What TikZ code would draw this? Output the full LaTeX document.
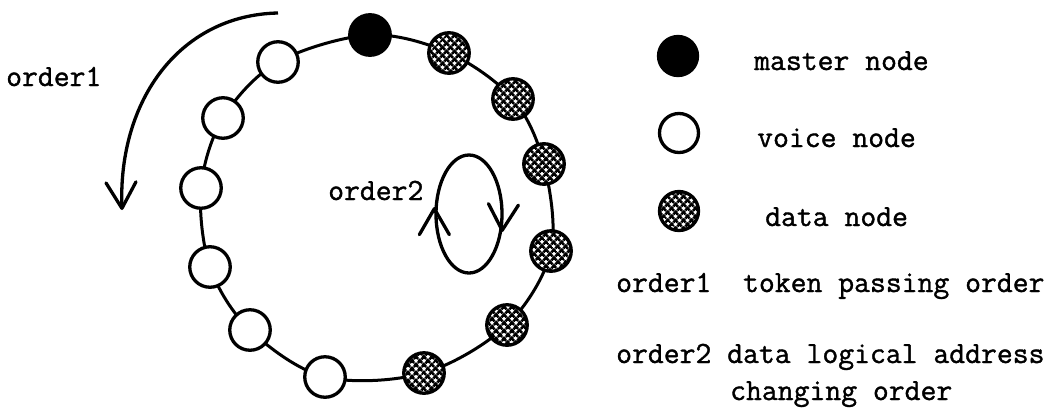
\documentclass[tikz,border=0pt]{standalone}
\usepackage{fontspec}
\setmonofont{Latin Modern Mono}[FakeBold=1.2]
\usetikzlibrary{arrows.meta,patterns.meta,backgrounds,shapes.geometric}

\tikzset{
  ringnode/.style={circle, inner sep=0pt, minimum size=40.5pt, line width=3.3pt, draw=black},
  masternode/.style={ringnode, fill=black},
  voicenode/.style={ringnode, fill=white},
  datanode/.style={ringnode, fill=white,
    postaction={pattern={Lines[angle=45,distance=5.4pt,line width=2.8pt]}},
    postaction={pattern={Lines[angle=-45,distance=5.4pt,line width=2.8pt]}}},
  ringline/.style={line width=3pt, black},
  barb/.tip={Straight Barb[length=26pt, width=30pt, line width=3.3pt, round]},
  label/.style={inner sep=0pt, anchor=base west, font=\ttfamily\fontsize{30.8}{34}\selectfont},
}

\begin{document}
\begin{tikzpicture}[x=1pt, y=-1pt]
\useasboundingbox (0,0) rectangle (1063,408);

% ring members
\node[masternode] (m)  at (370,35)  {};
\node[datanode]   (d1) at (449,53)  {};
\node[datanode]   (d2) at (513,99)  {};
\node[datanode]   (d3) at (544,164) {};
\node[datanode]   (d4) at (551,251) {};
\node[datanode]   (d5) at (507,325) {};
\node[datanode]   (d6) at (424,373) {};
\node[voicenode]  (v1) at (325,377) {};
\node[voicenode]  (v2) at (250,330) {};
\node[voicenode]  (v3) at (210,267) {};
\node[voicenode]  (v4) at (201,188) {};
\node[voicenode]  (v5) at (223,118) {};
\node[voicenode]  (v6) at (278,62)  {};

% the token ring behind the stations
\begin{scope}[on background layer]
  \draw[ringline] plot[smooth cycle, tension=0.55] coordinates
    {(m.center) (d1.center) (d2.center) (d3.center) (d4.center) (d5.center) (d6.center)
     (v1.center) (v2.center) (v3.center) (v4.center) (v5.center) (v6.center)};
\end{scope}

% order1: token passing direction
\coordinate (o1s) at (278,13);
\coordinate (o1e) at (122,210);
\draw[line width=3.3pt, -barb] (o1s) .. controls (180,15) and (118,100) .. (o1e);
\node[label] (o1) at (6,86) {order1};

% order2: logical address changing loop, running clockwise
\node[draw, line width=3.3pt, ellipse, inner sep=0pt, minimum width=66pt, minimum height=118pt] (loop) at (469,214) {};
\draw[line width=3.3pt, -barb] ([yshift=1pt]loop.west) -- ([yshift=7pt]loop.west);
\draw[line width=3.3pt, -barb] ([xshift=-1.3pt,yshift=-12pt]loop.east) -- ([xshift=-1.6pt,yshift=-18pt]loop.east);
\node[label] (o2) at (328,200) {order2};

% legend
\node[masternode, minimum size=39pt] (lm) at (678,56)  {};
\node[voicenode,  minimum size=39pt] (lv) at (679,133) {};
\node[datanode,   minimum size=39pt] (ld) at (679,211) {};
\node[label] (tm) at (754,70)  {master node};
\node[label] (tv) at (757,147) {voice node};
\node[label] (td) at (765,226) {data node};
\node[label] (t1) at (616,292) {order1~~token passing order};
\node[label] (t2) at (616,363) {order2 data logical address};
\node[label] (t3) at (730,400) {changing order};
\end{tikzpicture}
\end{document}
